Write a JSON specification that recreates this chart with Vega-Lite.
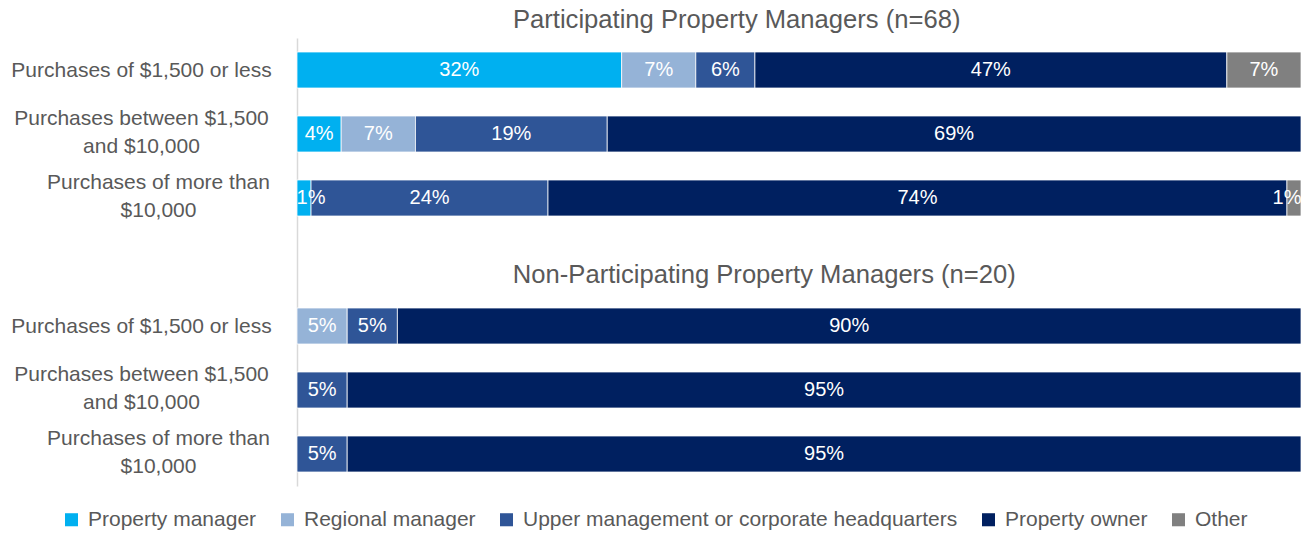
{
  "$schema": "https://vega.github.io/schema/vega-lite/v6.json",
  "width": 1004,
  "height": 448,
  "autosize": {"type": "none"},
  "padding": {"left": 297, "top": 38, "right": 7, "bottom": 47},
  "background": "white",
  "config": {"view": {"stroke": null}, "font": "Liberation Sans"},
  "title": {
    "text": "Participating Property Managers (n=68)",
    "anchor": "start",
    "frame": "group",
    "dx": 216,
    "offset": -16,
    "baseline": "alphabetic",
    "fontSize": 25.6,
    "fontWeight": "normal",
    "color": "#595959",
    "font": "Liberation Sans"
  },
  "data": {
    "values": [
      {"row": "P1", "cat": "Property manager", "ord": 1, "share": 0.324},
      {"row": "P1", "cat": "Regional manager", "ord": 2, "share": 0.074},
      {"row": "P1", "cat": "Upper management or corporate headquarters", "ord": 3, "share": 0.059},
      {"row": "P1", "cat": "Property owner", "ord": 4, "share": 0.471},
      {"row": "P1", "cat": "Other", "ord": 5, "share": 0.074},
      {"row": "P2", "cat": "Property manager", "ord": 1, "share": 0.044},
      {"row": "P2", "cat": "Regional manager", "ord": 2, "share": 0.074},
      {"row": "P2", "cat": "Upper management or corporate headquarters", "ord": 3, "share": 0.191},
      {"row": "P2", "cat": "Property owner", "ord": 4, "share": 0.691},
      {"row": "P3", "cat": "Property manager", "ord": 1, "share": 0.014},
      {"row": "P3", "cat": "Upper management or corporate headquarters", "ord": 3, "share": 0.236},
      {"row": "P3", "cat": "Property owner", "ord": 4, "share": 0.736},
      {"row": "P3", "cat": "Other", "ord": 5, "share": 0.014},
      {"row": "N1", "cat": "Regional manager", "ord": 2, "share": 0.05},
      {"row": "N1", "cat": "Upper management or corporate headquarters", "ord": 3, "share": 0.05},
      {"row": "N1", "cat": "Property owner", "ord": 4, "share": 0.9},
      {"row": "N2", "cat": "Upper management or corporate headquarters", "ord": 3, "share": 0.05},
      {"row": "N2", "cat": "Property owner", "ord": 4, "share": 0.95},
      {"row": "N3", "cat": "Upper management or corporate headquarters", "ord": 3, "share": 0.05},
      {"row": "N3", "cat": "Property owner", "ord": 4, "share": 0.95}
    ]
  },
  "encoding": {
    "y": {
      "field": "row",
      "type": "nominal",
      "scale": {"domain": ["P1", "P2", "P3", "gap", "N1", "N2", "N3"], "paddingInner": 0.4375, "paddingOuter": 0.21875},
      "axis": {
        "title": null,
        "ticks": false,
        "domain": true,
        "domainColor": "#d9d9d9",
        "domainWidth": 1.5,
        "labelFont": "Liberation Sans",
        "labelFontSize": 21,
        "labelColor": "#595959",
        "labelLineHeight": 28,
        "labelLimit": 500,
        "labelAlign": "center",
        "labelOffset": {"condition": {"test": "datum.value == 'P1' || datum.value == 'N1'", "value": 1}, "value": -15},
        "labelPadding": {"condition": {"test": "datum.value == 'P3' || datum.value == 'N3'", "value": 139}, "value": 156},
        "labelExpr": "datum.value == 'P1' || datum.value == 'N1' ? 'Purchases of $1,500 or less' : (datum.value == 'P2' || datum.value == 'N2') ? ['Purchases between $1,500', 'and $10,000'] : (datum.value == 'P3' || datum.value == 'N3') ? ['Purchases of more than', '$10,000'] : ''"
      }
    }
  },
  "layer": [
    {
      "mark": {"type": "bar", "stroke": "white", "strokeWidth": 0.75},
      "encoding": {
        "x": {"field": "share", "type": "quantitative", "stack": "normalize", "axis": null},
        "color": {
          "field": "cat",
          "type": "nominal",
          "sort": ["Property manager", "Regional manager", "Upper management or corporate headquarters", "Property owner", "Other"],
          "scale": {
            "domain": ["Property manager", "Regional manager", "Upper management or corporate headquarters", "Property owner", "Other"],
            "range": ["#00b0f0", "#95b3d7", "#2f5597", "#002060", "#808080"]
          },
          "legend": {
            "title": null,
            "orient": "none",
            "direction": "horizontal",
            "legendX": -236,
            "legendY": 471,
            "symbolType": "square",
            "symbolSize": 170,
            "symbolStrokeWidth": 0,
            "labelFont": "Liberation Sans",
            "labelFontSize": 21,
            "labelColor": "#595959",
            "labelOffset": 6,
            "columnPadding": 20,
            "labelLimit": 600
          }
        },
        "order": {"field": "ord", "type": "quantitative"}
      }
    },
    {
      "mark": {
        "type": "text",
        "color": "white",
        "fontSize": 20,
        "font": "Liberation Sans",
        "baseline": "middle",
        "align": "center",
        "dx": {"expr": "datum.share < 0.02 ? (datum.ord == 1 ? 7 : -7) : 0"}
      },
      "encoding": {
        "x": {"field": "share", "type": "quantitative", "stack": "normalize", "bandPosition": 0.5},
        "detail": {"field": "cat", "type": "nominal"},
        "order": {"field": "ord", "type": "quantitative"},
        "text": {"field": "share", "type": "quantitative", "format": ".0%"}
      }
    },
    {
      "data": {"values": [{"row": "gap", "title": "Non-Participating Property Managers (n=20)", "pos": 0.215}]},
      "mark": {"type": "text", "color": "#595959", "fontSize": 25.6, "font": "Liberation Sans", "baseline": "middle", "align": "left", "dy": 13},
      "encoding": {
        "x": {"field": "pos", "type": "quantitative"},
        "text": {"field": "title", "type": "nominal"}
      }
    }
  ]
}
